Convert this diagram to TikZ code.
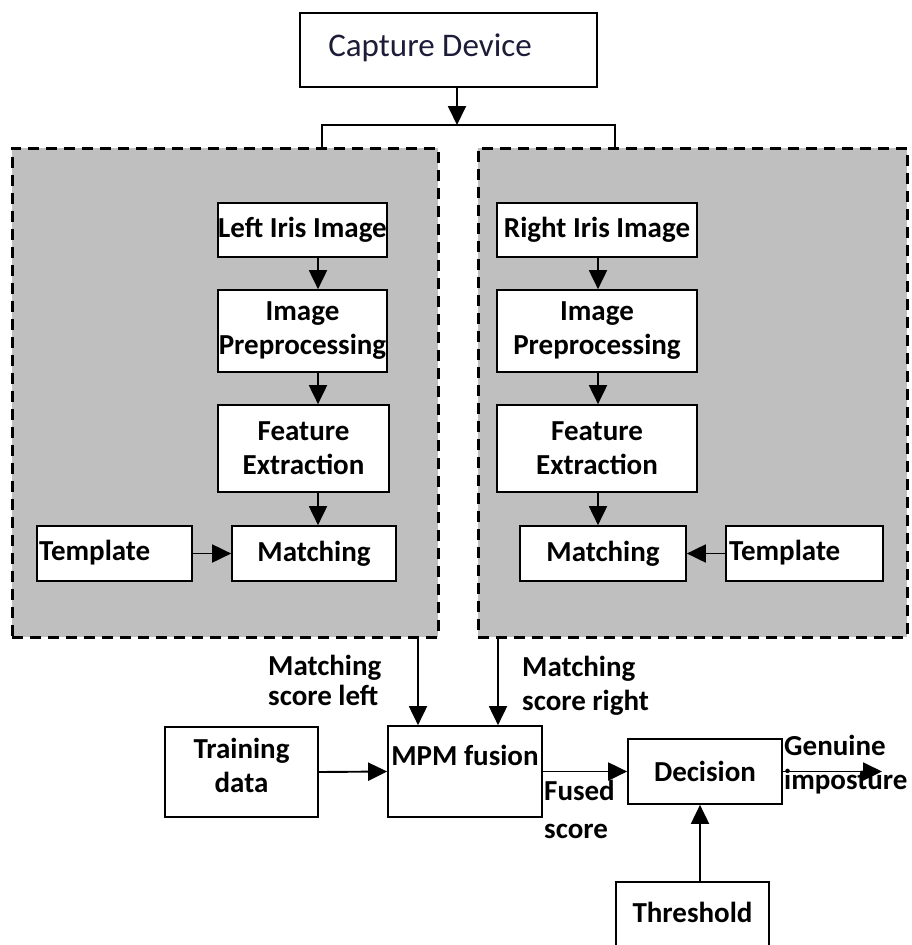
\documentclass[tikz,border=0pt]{standalone}
\usepackage{fontspec}
\setmainfont{Carlito}
\usetikzlibrary{arrows.meta}
\definecolor{panelgray}{HTML}{BFBFBF}
\definecolor{capblue}{HTML}{1C1C38}
\begin{document}
\begin{tikzpicture}[x=1pt,y=-1pt,
  box/.style={draw=black, line width=1.7pt, fill=white, inner sep=0pt,
    font=\fontsize{29}{34}\selectfont\bfseries, align=center},
  txt/.style={font=\fontsize{29}{34}\selectfont\bfseries, align=center, inner sep=0pt},
  ltxt/.style={font=\fontsize{29}{34}\selectfont\bfseries, align=left, inner sep=0pt, anchor=west},
  panel/.style={draw=black, fill=panelgray, line width=3pt, dash pattern=on 11pt off 7pt, inner sep=0pt},
  arr/.style={line width=1.9pt, -{Triangle[length=19pt,width=18pt]}},
  ln/.style={line width=1.9pt}
]
\clip (0,0) rectangle (911,945);
\fill[white] (0,0) rectangle (911,945);

% capture device
\node[box, minimum width=297, minimum height=74] (cap) at (448.5,50) {};
\node[font=\fontsize{33}{34}\selectfont, text=capblue, inner sep=0pt] (capt) at (430,48) {Capture Device};

% panels
\node[panel, minimum width=426, minimum height=489] (lp) at (225,392.5) {};
\node[panel, minimum width=429, minimum height=489] (rp) at (692.5,392.5) {};

% split
\coordinate (split) at (457,125);
\coordinate (bl) at (322,148);
\coordinate (br) at (615,148);
\draw[arr] (cap.south -| split) -- (split);
\draw[ln] (bl) -- (bl |- split) -- (br |- split) -- (br);

% left column
\node[box, minimum width=169, minimum height=54] (liris) at (302.5,230) {Left Iris Image};
\node[box, minimum width=169, minimum height=82] (lprep) at (302.5,331) {Image\\Preprocessing};
\node[box, minimum width=171, minimum height=87] (lfeat) at (303.5,448.5) {Feature\\Extraction};
\node[box, minimum width=164, minimum height=55] (lmatch) at (314,553.5) {Matching};
\node[box, minimum width=155, minimum height=55] (ltpl) at (114.5,553.5) {};
\node[ltxt] (ltplt) at (39,553) {Template};
\coordinate (xl) at (318,0);
\draw[arr] (liris.south -| xl) -- (lprep.north -| xl);
\draw[arr] (lprep.south -| xl) -- (lfeat.north -| xl);
\draw[arr] (lfeat.south -| xl) -- (lmatch.north -| xl);
\draw[arr] (ltpl.east) -- (lmatch.west);

% right column
\node[box, minimum width=200, minimum height=54] (riris) at (597,230) {Right Iris Image};
\node[box, minimum width=200, minimum height=82] (rprep) at (597,331) {Image\\Preprocessing};
\node[box, minimum width=200, minimum height=87] (rfeat) at (597,448.5) {Feature\\Extraction};
\node[box, minimum width=166, minimum height=55] (rmatch) at (603,553.5) {Matching};
\node[box, minimum width=157, minimum height=55] (rtpl) at (804.5,553.5) {};
\node[ltxt] (rtplt) at (729,553) {Template};
\coordinate (xr) at (598,0);
\draw[arr] (riris.south -| xr) -- (rprep.north -| xr);
\draw[arr] (rprep.south -| xr) -- (rfeat.north -| xr);
\draw[arr] (rfeat.south -| xr) -- (rmatch.north -| xr);
\draw[arr] (rtpl.west) -- (rmatch.east);

% bottom
\node[box, minimum width=154, minimum height=91] (mpm) at (465,771.5) {};
\node[txt] (mpmt) at (465,755) {MPM fusion};
\node[box, minimum width=153, minimum height=90] (train) at (241.5,772) {};
\node[txt] (traint) at (241.5,765) {Training\\data};
\node[box, minimum width=154, minimum height=65] (dec) at (705,771.5) {Decision};
\node[box, minimum width=153, minimum height=80] (thr) at (692.5,922) {};
\node[txt] (thrt) at (692.5,912) {Threshold};

\coordinate (xa) at (418,0);
\coordinate (xb) at (498,0);
\coordinate (xt) at (700,0);
\coordinate (out) at (882,771.5);
\draw[arr] (lp.south -| xa) -- (mpm.north -| xa);
\draw[arr] (rp.south -| xb) -- (mpm.north -| xb);
\draw[arr] (train.east) -- (mpm.west);
\draw[arr] (mpm.east) -- (dec.west);
\draw[arr] (dec.east) -- (out);
\draw[arr] (thr.north -| xt) -- (dec.south -| xt);

% labels
\node[ltxt, font=\fontsize{29}{30}\selectfont\bfseries] (msl) at (268,680) {Matching\\score left};
\node[ltxt] (msr) at (522,686) {Matching\\score right};
\node[ltxt, font=\fontsize{29}{38}\selectfont\bfseries] (fs) at (544,809) {Fused\\score};
\node[ltxt] (gi) at (784,765) {Genuine\\imposture};
\end{tikzpicture}
\end{document}
